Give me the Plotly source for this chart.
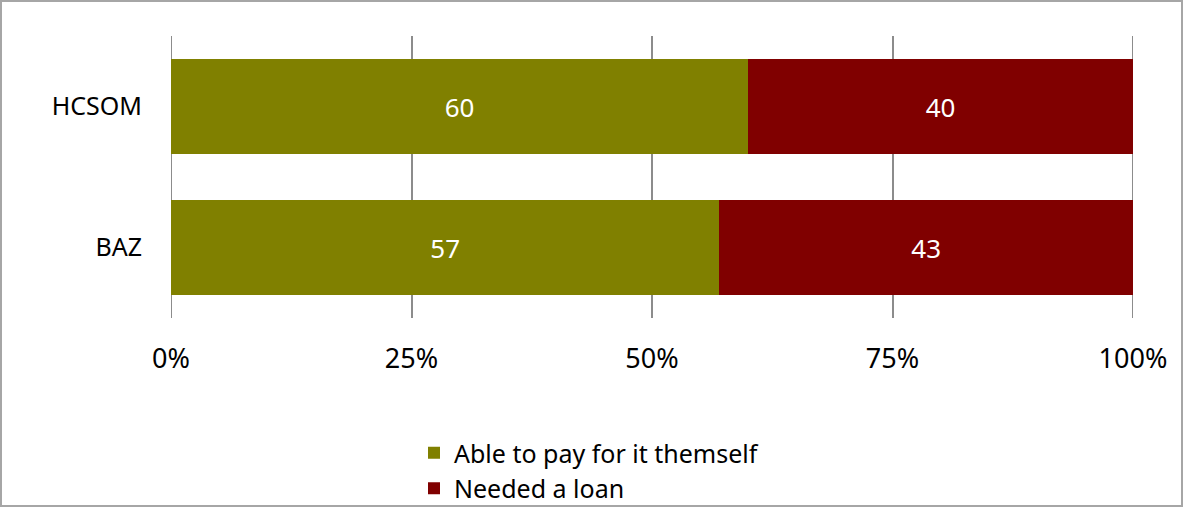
import plotly.graph_objects as go

categories = ["HCSOM", "BAZ"]
able = [60, 57]
loan = [40, 43]
series_names = ["Able to pay for it themself", "Needed a loan"]
colors = ["#808000", "#800000"]
tick_vals = [0, 25, 50, 75, 100]
tick_text = ["0%", "25%", "50%", "75%", "100%"]

W, H = 1185, 508
L, R, T, B = 171, 52, 36, 190
pw, ph = W - L - R, H - T - B

def px_x(p):
    return (p - L) / pw

def px_y(p):
    return (H - B - p) / ph

font = "Noto Sans, Open Sans, DejaVu Sans, sans-serif"
grid_col = "#8c8c8c"

fig = go.Figure()
for name, vals, c in zip(series_names, [able, loan], colors):
    fig.add_trace(go.Bar(
        y=categories, x=vals, name=name, orientation="h",
        marker=dict(color=c, line=dict(width=0)),
        text=[str(v) for v in vals], textposition="inside",
        insidetextanchor="middle",
        textfont=dict(color="white", size=26, family=font),
    ))

shapes = [dict(
    type="rect", xref="paper", yref="paper",
    x0=px_x(1), x1=px_x(1182), y0=px_y(506), y1=px_y(1),
    line=dict(color="#a6a6a6", width=2), fillcolor="rgba(0,0,0,0)",
    layer="below",
)]
for v in (tick_vals[0], tick_vals[-1]):
    shapes.append(dict(type="line", xref="x", yref="paper", x0=v, x1=v,
                       y0=0, y1=1, line=dict(color=grid_col, width=2),
                       layer="below"))

fig.update_layout(
    width=W, height=H,
    margin=dict(l=L, r=R, t=T, b=B, autoexpand=False),
    barmode="stack", bargap=0.333,
    plot_bgcolor="white", paper_bgcolor="white",
    font=dict(family=font, color="black"),
    showlegend=True,
    legend=dict(
        orientation="v", x=px_x(414), xanchor="left",
        y=px_y(430), yanchor="top",
        font=dict(size=25, family=font, color="black"),
        bgcolor="rgba(0,0,0,0)", traceorder="normal",
        itemwidth=30,
    ),
    xaxis=dict(
        range=[0, 100], tickvals=tick_vals, ticktext=tick_text,
        showgrid=True, gridcolor=grid_col, gridwidth=2,
        zeroline=False, showline=False, ticks="",
        tickfont=dict(size=27, family=font, color="black"),
        ticklabelstandoff=22,
    ),
    yaxis=dict(
        autorange="reversed", showgrid=False, zeroline=False,
        showline=False, ticks="",
        tickfont=dict(size=25, family=font, color="black"),
        ticklabelstandoff=28,
    ),
    shapes=shapes,
)

fig.write_html("out.html", config={"displayModeBar": False},
               post_script="document.body.style.margin='0';")
